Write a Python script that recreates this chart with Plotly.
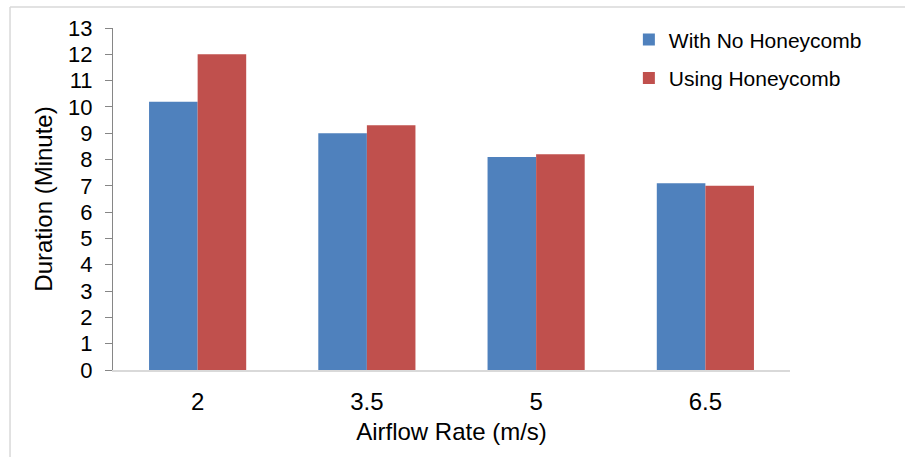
import plotly.graph_objects as go

categories = ["2", "3.5", "5", "6.5"]
no_honeycomb = [10.2, 9.0, 8.1, 7.1]
with_honeycomb = [12.0, 9.3, 8.2, 7.0]
series_names = ["With No Honeycomb", "Using Honeycomb"]
y_ticks = list(range(0, 14))

FONT = "Liberation Sans, Arial, sans-serif"

fig = go.Figure()
fig.add_trace(go.Bar(x=categories, y=no_honeycomb, name=series_names[0],
                     marker=dict(color="#4F81BD", line=dict(width=0)),
                     legendgroup="a"))
fig.add_trace(go.Bar(x=categories, y=with_honeycomb, name=series_names[1],
                     marker=dict(color="#C0504D", line=dict(width=0)),
                     legendgroup="b"))

fig.update_layout(
    width=905, height=457,
    margin=dict(l=113, r=115, t=28, b=87),
    paper_bgcolor="white", plot_bgcolor="white",
    barmode="group", bargap=0.426, bargroupgap=0,
    font=dict(family=FONT, size=22, color="black"),
    showlegend=True,
    legend=dict(x=0.762, y=1.025, xanchor="left", yanchor="top",
                font=dict(size=21), tracegroupgap=8,
                bgcolor="rgba(0,0,0,0)"),
    xaxis=dict(type="category", showline=True, linecolor="#D9D9D9", linewidth=1.5,
               ticks="", showgrid=False, ticklabelstandoff=9,
               tickfont=dict(size=24),
               title=dict(text="Airflow Rate (m/s)", standoff=10,
                          font=dict(size=24))),
    yaxis=dict(range=[0, 13], tickvals=y_ticks, showline=True, linecolor="#868686",
               linewidth=1, ticks="outside", ticklen=7, tickcolor="#868686",
               showgrid=False, zeroline=False, tickfont=dict(size=22),
               ticklabelstandoff=8,
               title=dict(text="Duration (Minute)", standoff=8,
                          font=dict(size=24))),
    shapes=[
        dict(type="line", xref="paper", yref="paper", x0=-0.1521, x1=1.17,
             y0=1.0614, y1=1.0614, line=dict(color="#D9D9D9", width=1.5)),
        dict(type="line", xref="paper", yref="paper", x0=-0.1521, x1=-0.1521,
             y0=1.0614, y1=-0.26, line=dict(color="#D9D9D9", width=1.5)),
    ],
)

fig.write_html("out.html")
